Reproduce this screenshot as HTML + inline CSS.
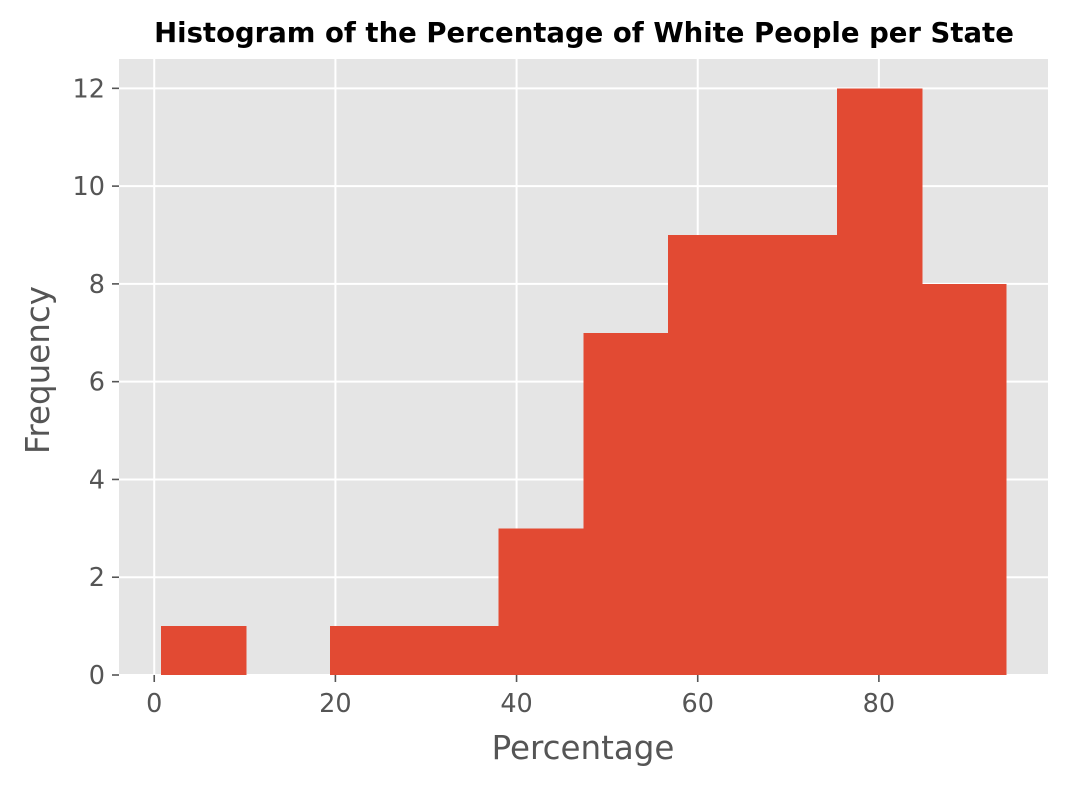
<!DOCTYPE html>
<html><head><meta charset="utf-8"><style>
body{margin:0;background:#fff;}
svg{display:block;font-family:"Liberation Sans","DejaVu Sans",sans-serif;}
</style></head><body>
<svg id="chart" width="1068" height="786">
<rect x="0" y="0" width="1068" height="786" fill="#fff"/>
<rect id="plot" x="119" y="59" width="929" height="616" fill="#e5e5e5"/>
<g id="grid"></g><g id="bars" shape-rendering="crispEdges"></g><g id="axes"></g>
<text x="584" y="42" text-anchor="middle" font-size="27.5" font-weight="bold" fill="#000" font-family="DejaVu Sans, sans-serif">Histogram of the Percentage of White People per State</text>
<text x="583" y="759" text-anchor="middle" font-size="32.5" fill="#555" font-family="DejaVu Sans, sans-serif">Percentage</text>
<text transform="translate(49,370) rotate(-90)" text-anchor="middle" font-size="32.5" fill="#555" font-family="DejaVu Sans, sans-serif">Frequency</text>
</svg>
<script>
const binEdges=[0.77,10.1,19.4,28.7,38.0,47.4,56.7,66.0,75.4,84.7,94.0];
const counts=[1,0,1,1,3,7,9,9,12,8];
const xTicks=[0,20,40,60,80];
const yTicks=[0,2,4,6,8,10,12];
const L=119,R=1048,T=59,B=675;
const xmin=-3.89,xmax=98.67,ymin=0,ymax=12.6;
const sx=v=>L+(v-xmin)/(xmax-xmin)*(R-L);
const sy=v=>B-(v-ymin)/(ymax-ymin)*(B-T);
const NS='http://www.w3.org/2000/svg';
function mk(tag,attrs,parent){const e=document.createElementNS(NS,tag);for(const k in attrs)e.setAttribute(k,attrs[k]);parent.appendChild(e);return e;}
const grid=document.getElementById('grid'),bars=document.getElementById('bars'),axes=document.getElementById('axes');
xTicks.forEach(t=>{
  const g=mk('line',{x1:sx(t),x2:sx(t),y1:T,y2:B,stroke:'#fff','stroke-width':2},grid);
  
  
  const tk=mk('line',{x1:sx(t),x2:sx(t),y1:B,y2:B+7,stroke:'#555','stroke-width':1.6},axes);
  
  
  const tx=mk('text',{x:sx(t),y:B+37,'text-anchor':'middle','font-size':25.5,fill:'#555','font-family':'DejaVu Sans, sans-serif'},axes);
  tx.textContent=t;
  
  
});
yTicks.forEach(t=>{
  const g=mk('line',{x1:L,x2:R,y1:sy(t),y2:sy(t),stroke:'#fff','stroke-width':2},grid);
  
  
  const tk=mk('line',{x1:L-7,x2:L,y1:sy(t),y2:sy(t),stroke:'#555','stroke-width':1.6},axes);
  
  
  const tx=mk('text',{x:L-14,y:sy(t)+9,'text-anchor':'end','font-size':25.5,fill:'#555','font-family':'DejaVu Sans, sans-serif'},axes);
  tx.textContent=t;
  
  
});
counts.forEach((c,i)=>{
  if(c<=0)return;
  const x0=sx(binEdges[i]),x1=sx(binEdges[i+1]);
  const r=mk('rect',{x:x0,y:sy(c),width:x1-x0+0.8,height:sy(0)-sy(c),fill:'#e24a33'},bars);
  
  
});
</script>
</body></html>
